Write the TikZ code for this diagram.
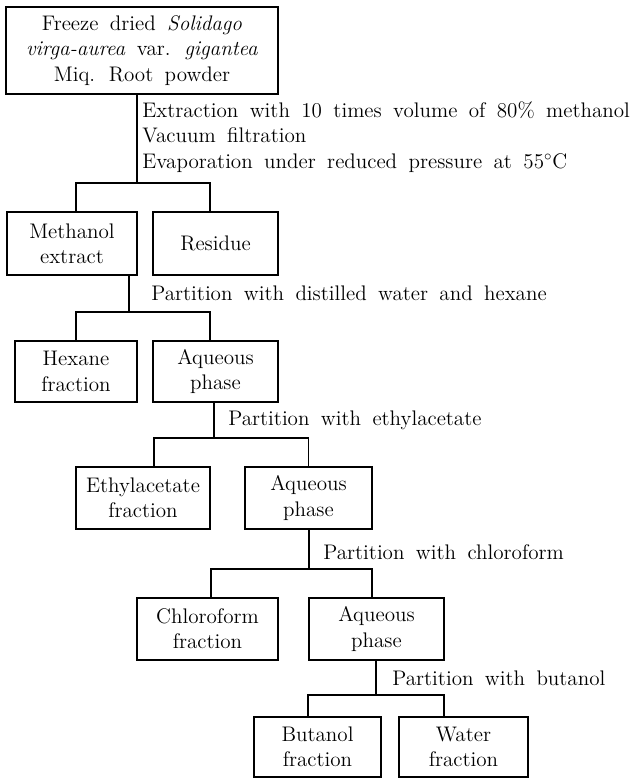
\documentclass[tikz,border=0pt]{standalone}
\usepackage{tikz}
\usetikzlibrary{positioning}
\newcommand{\widewords}{\spaceskip=6.5pt plus 1pt minus 1pt\relax}
\tikzset{
    fracbox/.style={draw, line width=0.6pt, align=center, inner sep=0pt, minimum height=1.24cm},
    proclabel/.style={anchor=west, align=left, inner sep=0pt},
    branch/.style={line width=0.6pt}
}

\begin{document}
\begin{tikzpicture}[x=0.02cm, y=-0.02cm, font=\fontsize{12}{14.4}\selectfont\widewords]
            \useasboundingbox (0,0) rectangle (630,780);
            % boxes
            \node[fracbox, minimum width=5.44cm, minimum height=1.74cm] (powder) at (142,50.5) {Freeze dried \textit{Solidago}\\\textit{virga-aurea} var. \textit{gigantea}\\Miq. Root powder};
            \node[fracbox, minimum width=2.6cm, minimum height=1.26cm] (meoh) at (72,243.5) {Methanol\\extract};
            \node[fracbox, minimum width=2.5cm, minimum height=1.26cm] (residue) at (215.5,243.5) {Residue};
            \node[fracbox, minimum width=2.44cm, minimum height=1.22cm] (hexane) at (76,371.5) {Hexane\\fraction};
            \node[fracbox, minimum width=2.5cm, minimum height=1.22cm] (aqA) at (215.5,371.5) {Aqueous\\phase};
            \node[fracbox, minimum width=2.68cm] (etac) at (143,498) {Ethylacetate\\fraction};
            \node[fracbox, minimum width=2.54cm] (aqB) at (308.5,498) {Aqueous\\phase};
            \node[fracbox, minimum width=2.82cm] (chcl) at (207.5,629) {Chloroform\\fraction};
            \node[fracbox, minimum width=2.7cm] (aqC) at (376.5,629) {Aqueous\\phase};
            \node[fracbox, minimum width=2.54cm, minimum height=1.2cm] (buoh) at (317.5,747) {Butanol\\fraction};
            \node[fracbox, minimum width=2.58cm, minimum height=1.2cm] (water) at (463.5,747) {Water\\fraction};

            % procedure texts
            \node[proclabel] (extr) at (142,137) {Extraction with 10 times volume of 80\% methanol\\Vacuum filtration\\Evaporation under reduced pressure at 55$^{\circ}$C};
            \node[proclabel] (partA) at (151,293) {Partition with distilled water and hexane};
            \node[proclabel] (partB) at (228,420) {Partition with ethylacetate};
            \node[proclabel] (partC) at (323,552) {Partition with chloroform};
            \node[proclabel] (partD) at (392,678) {Partition with butanol};

            % branch points
            \coordinate (forkA) at (137,183);
            \coordinate (forkB) at (129,312);
            \coordinate (forkC) at (214,438);
            \coordinate (forkD) at (309,569);
            \coordinate (forkE) at (376,695);

            % connectors
            \draw[branch] (powder.south -| forkA) -- (forkA);
            \draw[branch] ([xshift=0.08cm]meoh.north) |- (forkA) -| ([xshift=-0.11cm]residue.north);
            \draw[branch] (meoh.south -| forkB) -- (forkB);
            \draw[branch] (hexane.north) |- (forkB) -| ([xshift=-0.11cm]aqA.north);
            \draw[branch] (aqA.south -| forkC) -- (forkC);
            \draw[branch] ([xshift=0.22cm]etac.north) |- (forkC) -| (aqB.north);
            \draw[branch] (aqB.south -| forkD) -- (forkD);
            \draw[branch] ([xshift=0.07cm]chcl.north) |- (forkD) -| ([xshift=-0.09cm]aqC.north);
            \draw[branch] (aqC.south -| forkE) -- (forkE);
            \draw[branch] ([xshift=-0.19cm]buoh.north) |- (forkE) -| ([xshift=-0.39cm]water.north);
        \end{tikzpicture}
\end{document}
